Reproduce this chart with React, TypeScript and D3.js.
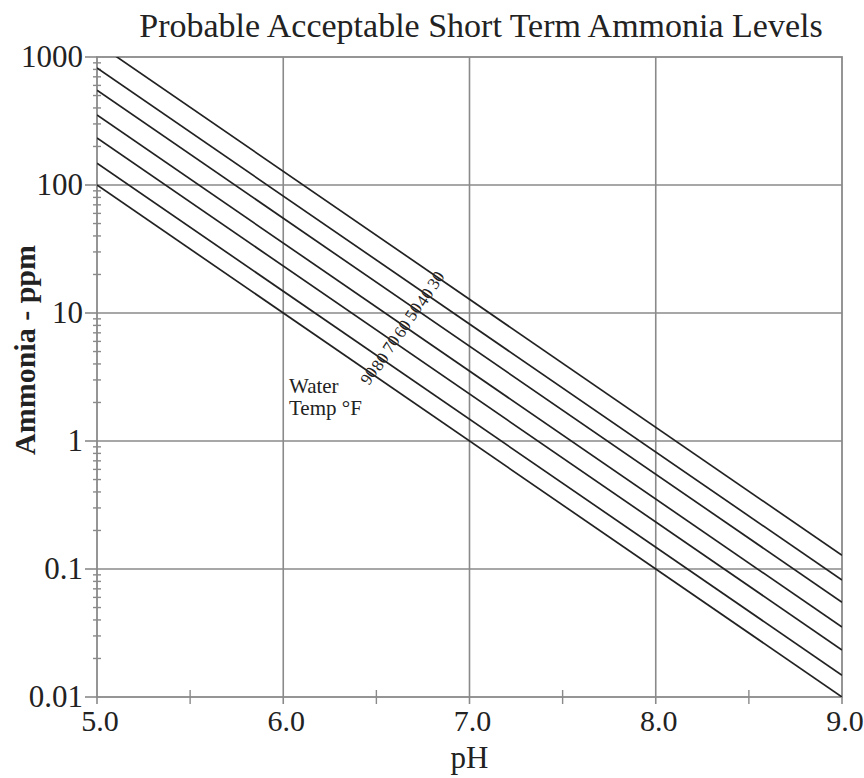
import * as d3 from "d3";

// temperature lines (deg F), ammonia ppm at pH 5.0 and pH 9.0
const temps = [90, 80, 70, 60, 50, 40, 30];
const ppmAtPH5 = [100, 148, 233, 352, 550, 820, 1280];
const ppmAtPH9 = [0.01, 0.0148, 0.0233, 0.0352, 0.055, 0.082, 0.128];
const labelPH = [6.46, 6.52, 6.58, 6.64, 6.7, 6.76, 6.82];

const xTicks = [5, 6, 7, 8, 9];
const xMinor = [5.5, 6.5, 7.5, 8.5];
const yTicks = [0.01, 0.1, 1, 10, 100, 1000];
const yTickLabels = ["0.01", "0.1", "1", "10", "100", "1000"];

const W = 864;
const H = 778;
const MARGIN = { top: 57, right: 22, bottom: 81, left: 97 };
const FONT = "'Liberation Serif', 'Times New Roman', serif";

export default function App() {
  const x = d3.scaleLinear().domain([5, 9]).range([MARGIN.left, W - MARGIN.right]);
  const y = d3.scaleLog().domain([0.01, 1000]).range([H - MARGIN.bottom, MARGIN.top]);
  const [x0, x1] = x.range();
  const [yb, yt] = y.range();

  const line = d3
    .line<[number, number]>()
    .x((d) => x(d[0]))
    .y((d) => y(d[1]));

  const minorY: number[] = [];
  yTicks.slice(0, -1).forEach((d) => {
    for (let k = 2; k <= 9; k++) minorY.push(d * k);
  });

  const grid = "#8a8a8a";
  const ink = "#222";

  return (
    <div style={{ position: "absolute", left: 0, top: 0 }}>
      <svg width={W} height={H} style={{ display: "block", background: "#fff" }}>
        <defs>
          <clipPath id="plot">
            <rect x={x0} y={yt} width={x1 - x0} height={yb - yt} />
          </clipPath>
        </defs>
        <text x={481} y={37} textAnchor="middle" fontFamily={FONT} fontSize={34} fill={ink}>
          Probable Acceptable Short Term Ammonia Levels
        </text>

        {/* grid */}
        {xTicks.slice(1, -1).map((t) => (
          <line key={"gx" + t} x1={x(t)} x2={x(t)} y1={yt} y2={yb} stroke={grid} strokeWidth={1.6} />
        ))}
        {yTicks.slice(1, -1).map((t) => (
          <line key={"gy" + t} x1={x0} x2={x1} y1={y(t)} y2={y(t)} stroke={grid} strokeWidth={1.6} />
        ))}
        <rect x={x0} y={yt} width={x1 - x0} height={yb - yt} fill="none" stroke={grid} strokeWidth={1.8} />

        {/* y ticks */}
        {minorY.map((t, i) => (
          <line key={"my" + i} x1={x0 - 4} x2={x0 + 4} y1={y(t)} y2={y(t)} stroke={grid} strokeWidth={1.4} />
        ))}
        {yTicks.map((t, i) => (
          <g key={"ty" + t}>
            <line x1={x0 - 12} x2={x0} y1={y(t)} y2={y(t)} stroke={grid} strokeWidth={1.6} />
            <text
              x={x0 - 14}
              y={y(t) + 10}
              textAnchor="end"
              fontFamily={FONT}
              fontSize={31}
              fill={ink}
            >
              {yTickLabels[i]}
            </text>
          </g>
        ))}

        {/* x ticks */}
        {xMinor.map((t) => (
          <line key={"mx" + t} x1={x(t)} x2={x(t)} y1={yb - 7} y2={yb + 7} stroke={grid} strokeWidth={1.4} />
        ))}
        {xTicks.map((t) => (
          <g key={"tx" + t}>
            <line x1={x(t)} x2={x(t)} y1={yb} y2={yb + 7} stroke={grid} strokeWidth={1.6} />
            <text x={x(t) + 3} y={yb + 34} textAnchor="middle" fontFamily={FONT} fontSize={30} fill={ink}>
              {t.toFixed(1)}
            </text>
          </g>
        ))}

        {/* temperature lines */}
        <g clipPath="url(#plot)">
          {temps.map((t, i) => (
            <path
              key={"l" + t}
              d={line([
                [5, ppmAtPH5[i]],
                [9, ppmAtPH9[i]],
              ]) ?? ""}
              fill="none"
              stroke={ink}
              strokeWidth={1.7}
            />
          ))}
        </g>

        {/* line labels */}
        {temps.map((t, i) => {
          const p = labelPH[i];
          const v = ppmAtPH5[i] * Math.pow(ppmAtPH9[i] / ppmAtPH5[i], (p - 5) / 4);
          const cx = x(p);
          const cy = y(v) + 4;
          return (
            <text
              key={"lab" + t}
              x={cx}
              y={cy}
              transform={`rotate(-57 ${cx} ${cy})`}
              textAnchor="middle"
              dominantBaseline="central"
              fontFamily={FONT}
              fontSize={17}
              fill={ink}
            >
              {t}
            </text>
          );
        })}
        <text x={289} y={393} fontFamily={FONT} fontSize={21} fill={ink}>
          Water
        </text>
        <text x={289} y={415} fontFamily={FONT} fontSize={21} fill={ink}>
          Temp °F
        </text>

        {/* axis titles */}
        <text x={(x0 + x1) / 2} y={768} textAnchor="middle" fontFamily={FONT} fontSize={31} fill={ink}>
          pH
        </text>
        <text
          transform={`translate(35, ${(yt + yb) / 2 - 27}) rotate(-90)`}
          textAnchor="middle"
          fontFamily={FONT}
          fontWeight="bold"
          fontSize={30}
          fill={ink}
        >
          Ammonia - ppm
        </text>
      </svg>
    </div>
  );
}
